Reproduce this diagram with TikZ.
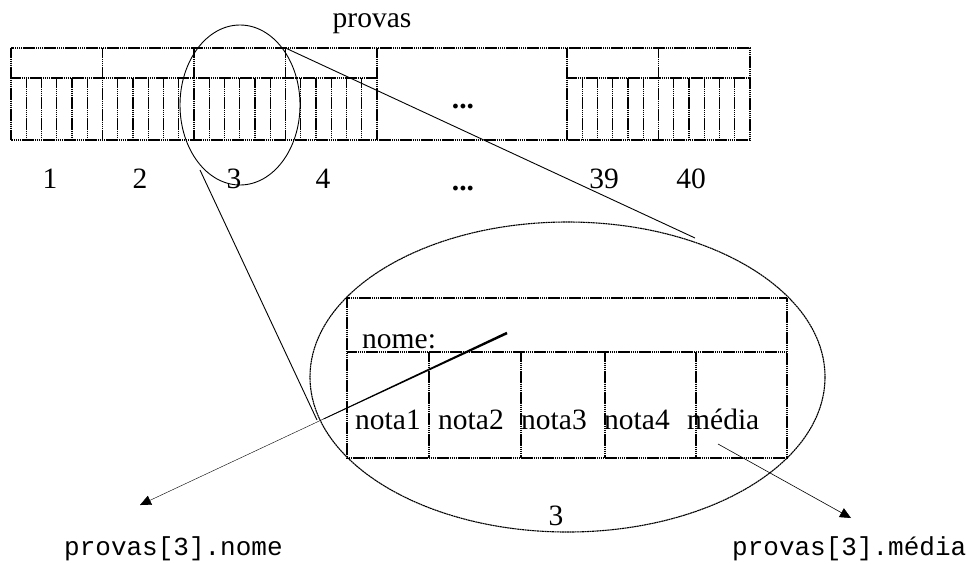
\documentclass[tikz,border=0pt]{standalone}
\usepackage{fontspec}
\setmainfont{Liberation Serif}
\setmonofont{Liberation Mono}
\usetikzlibrary{arrows.meta,calc}

\begin{document}
\begin{tikzpicture}[x=1pt,y=-1pt,
  cellline/.style={line width=1.25pt,dash pattern=on 1.6pt off 0.5pt},
  zoomring/.style={line width=0.9pt},
  bigring/.style={line width=1.1pt,dash pattern=on 2pt off 0.5pt},
  guide/.style={line width=0.9pt},
  lbl/.style={font=\fontsize{29.5}{30}\selectfont,inner sep=0pt,anchor=base},
  lblw/.style={lbl,anchor=base west},
  code/.style={font=\ttfamily\fontsize{26}{27}\selectfont,inner sep=0pt,anchor=base west},
  ptr/.style={line width=0.4pt,-{Triangle[length=11pt,width=10pt]}}]
\useasboundingbox (0,0) rectangle (973,563);

% ---- the array of 40 records ----
\draw[cellline] (11,48) rectangle (750,140);
\draw[cellline] (11,78) -- (377,78);
\draw[cellline] (567,78) -- (750,78);
\foreach \x in {102.5,194,285.5,377,567,658.5}
  \draw[cellline] (\x,48) -- (\x,140);
\foreach \c in {11,102.5,194,285.5,567,658.5}
  \foreach \k in {1,...,5}
    \draw[cellline] ({\c+\k*91.5/6},78) -- ({\c+\k*91.5/6},140);

\node[lbl] (title) at (372,27) {provas};
\node[lbl] (gapdots) at (463,108) {\textbf{...}};
\node[lbl] (n1) at (50,188) {1};
\node[lbl] (n2) at (140,188) {2};
\node[lbl] (n3) at (234,188) {3};
\node[lbl] (n4) at (323,188) {4};
\node[lbl] (ndots) at (463,190) {\textbf{...}};
\node[lbl] (n39) at (604,188) {39};
\node[lbl] (n40) at (691,188) {40};

% ---- ring round record 3 and its enlargement ----
\draw[zoomring] (240,105) ellipse [x radius=60, y radius=80];
\draw[bigring] (567.5,377) ellipse [x radius=257.5, y radius=155];

\coordinate (ringtop) at (285.5,48);
\coordinate (ringlow) at (200,170);
\coordinate (bigtop) at (695,238);
\coordinate (bigleft) at (317,420);
\draw[guide] (ringtop) -- (bigtop);
\draw[guide] (ringlow) -- (bigleft);

% ---- the record provas[3] ----
\draw[cellline] (347,298) rectangle (787,458);
\draw[cellline] (347,352) -- (787,352);
\foreach \x in {429,521,605,696}
  \draw[cellline] (\x,352) -- (\x,458);

\node[lblw] (nome) at (362,348) {nome:};
\node[lblw] (nota1) at (355,429) {nota1};
\node[lblw] (nota2) at (438,429) {nota2};
\node[lblw] (nota3) at (521,429) {nota3};
\node[lblw] (nota4) at (604,429) {nota4};
\node[lblw] (media) at (687,429) {média};
\node[lbl] (recno) at (556,525) {3};

% ---- pointers to the fields (the nome pointer tapers off) ----
\coordinate (nomefield) at (507,333);
\coordinate (nometip) at (140,505);
\coordinate (mediafield) at (718,444);
\coordinate (mediatip) at (851,518);
\coordinate (nomemid) at ($(nomefield)!0.5!(nometip)$);
\draw[ptr] (nomefield) -- (nometip);
\fill ($(nomefield)!1.3pt!90:(nometip)$) -- ($(nomemid)!0.4pt!-90:(nomefield)$)
   -- ($(nomemid)!0.4pt!90:(nomefield)$) -- ($(nomefield)!1.3pt!-90:(nometip)$) -- cycle;
\draw[ptr,line width=0.6pt] (mediafield) -- (mediatip);

\node[code] (nomecode) at (64,555) {provas[3].nome};
\node[code] (mediacode) at (732,555) {provas[3].média};
\end{tikzpicture}
\end{document}
